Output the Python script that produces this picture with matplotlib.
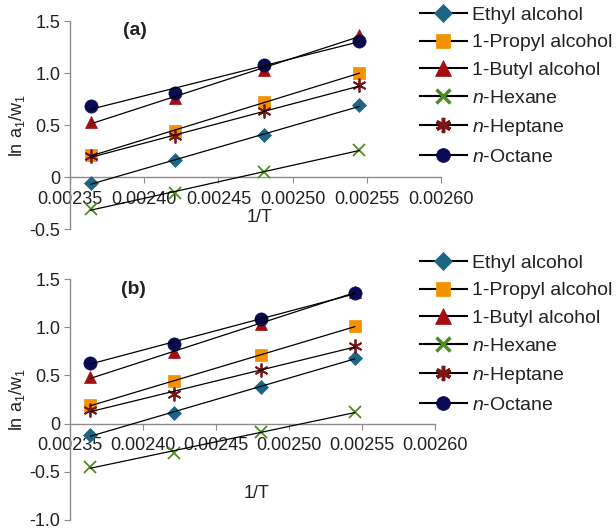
import numpy as np
import matplotlib
matplotlib.use("Agg")
import matplotlib.pyplot as plt
from matplotlib.lines import Line2D

plt.rcParams['font.family'] = ['Liberation Sans', 'DejaVu Sans']
plt.rcParams['mathtext.fontset'] = 'custom'
plt.rcParams['mathtext.rm'] = 'Liberation Sans'
plt.rcParams['mathtext.it'] = 'Liberation Sans:italic'

# 1/T values (T = 423, 413, 403, 393 K)
inv_T = [0.002364, 0.002421, 0.002481, 0.002545]

series_names = ['Ethyl alcohol', '1-Propyl alcohol', '1-Butyl alcohol',
                '$\\it{n}$-Hexane', '$\\it{n}$-Heptane', '$\\it{n}$-Octane']

# panel (a)
ethyl_a = [-0.06, 0.16, 0.40, 0.69]
propyl_a = [0.21, 0.44, 0.72, 1.00]
butyl_a = [0.53, 0.76, 1.03, 1.37]
hexane_a = [-0.31, -0.15, 0.05, 0.26]
heptane_a = [0.20, 0.39, 0.63, 0.88]
octane_a = [0.68, 0.81, 1.08, 1.31]

# panel (b)
ethyl_b = [-0.12, 0.11, 0.38, 0.68]
propyl_b = [0.19, 0.44, 0.71, 1.01]
butyl_b = [0.48, 0.74, 1.03, 1.37]
hexane_b = [-0.45, -0.30, -0.09, 0.12]
heptane_b = [0.14, 0.31, 0.56, 0.80]
octane_b = [0.63, 0.83, 1.09, 1.35]

x_ticks = [0.00235, 0.00240, 0.00245, 0.00250, 0.00255, 0.00260]
x_ticklabels = ['0.00235', '0.00240', '0.00245', '0.00250', '0.00255', '0.00260']

colors = ['#1B6585', '#F39200', '#A50E0E', '#4E8E1E', '#7A1515', '#0B0B55']
markers = ['D', 's', '^', 'x', (6, 2, 0), 'o']
msizes = [7, 8.5, 9, 9, 10, 9.5]
leg_sizes = [9.5, 10, 11, 10, 11, 10]

fig = plt.figure(figsize=(6.16, 5.28), dpi=100)
ax1 = fig.add_axes([70/616, 1-229/528, 371/616, 208/528])
ax2 = fig.add_axes([70/616, 1-520/528, 365/616, 241/528])


def draw_panel(ax, data, ylo, yticks, yticklabels, tag, label_y):
    for i, ys in enumerate(data):
        c = colors[i]
        ax.plot(inv_T, ys, linestyle='none', marker=markers[i], ms=msizes[i],
                color=c, mec=c, mew=1.3 if markers[i] in ('x', (6, 2, 0)) else 0.5,
                zorder=3)
        k, b = np.polyfit(inv_T, ys, 1)
        xs = np.array([inv_T[0], inv_T[-1]])
        ax.plot(xs, k * xs + b, color='black', lw=0.9, zorder=4)
    ax.set_xlim(0.00235, 0.00260)
    ax.set_ylim(ylo, 1.5)
    ax.spines['top'].set_visible(False)
    ax.spines['right'].set_visible(False)
    ax.spines['bottom'].set_position(('data', 0))
    for s in ('left', 'bottom'):
        ax.spines[s].set_color('#8c8c8c')
        ax.spines[s].set_linewidth(1.0)
    ax.set_xticks(x_ticks)
    ax.set_xticklabels(x_ticklabels)
    ax.set_yticks(yticks)
    ax.set_yticklabels(yticklabels)
    ax.tick_params(axis='x', direction='out', length=4, color='#8c8c8c',
                   labelsize=13, labelcolor='#222222', pad=6)
    ax.tick_params(axis='y', direction='out', length=4, color='#8c8c8c',
                   labelsize=13, labelcolor='#222222', pad=3)
    ax.set_ylabel('ln a$_1$/w$_1$', fontsize=13, color='#222222', labelpad=2)
    ax.text(0.51, label_y, '1/T', transform=ax.transAxes, fontsize=13,
            color='#222222', ha='center', va='center')
    ax.text(0.175, 0.955, tag, transform=ax.transAxes, fontsize=14,
            fontweight='bold', color='#222222', ha='center', va='center')


draw_panel(ax1, [ethyl_a, propyl_a, butyl_a, hexane_a, heptane_a, octane_a],
           -0.5, [-0.5, 0, 0.5, 1.0, 1.5], ['-0.5', '0', '0.5', '1.0', '1.5'],
           '(a)', 0.055)
draw_panel(ax2, [ethyl_b, propyl_b, butyl_b, hexane_b, heptane_b, octane_b],
           -1.0, [-1.0, -0.5, 0, 0.5, 1.0, 1.5],
           ['-1.0', '-0.5', '0', '0.5', '1.0', '1.5'], '(b)', 0.11)

handles = []
for i in range(6):
    handles.append(Line2D([0], [0], color='black', lw=1.5, marker=markers[i],
                          ms=leg_sizes[i], mfc=colors[i], mec=colors[i],
                          mew=2.5 if markers[i] in ('x', (6, 2, 0)) else 0.5))

for top in (6/528, 254/528):
    fig.legend(handles, series_names, loc='upper left',
               bbox_to_anchor=(420/616, 1 - top), frameon=False,
               fontsize=14, handlelength=2.4, handletextpad=0.25,
               labelspacing=0.52, borderpad=0, borderaxespad=0,
               labelcolor='#222222')

fig.savefig('out.png', dpi=100, facecolor='white')
